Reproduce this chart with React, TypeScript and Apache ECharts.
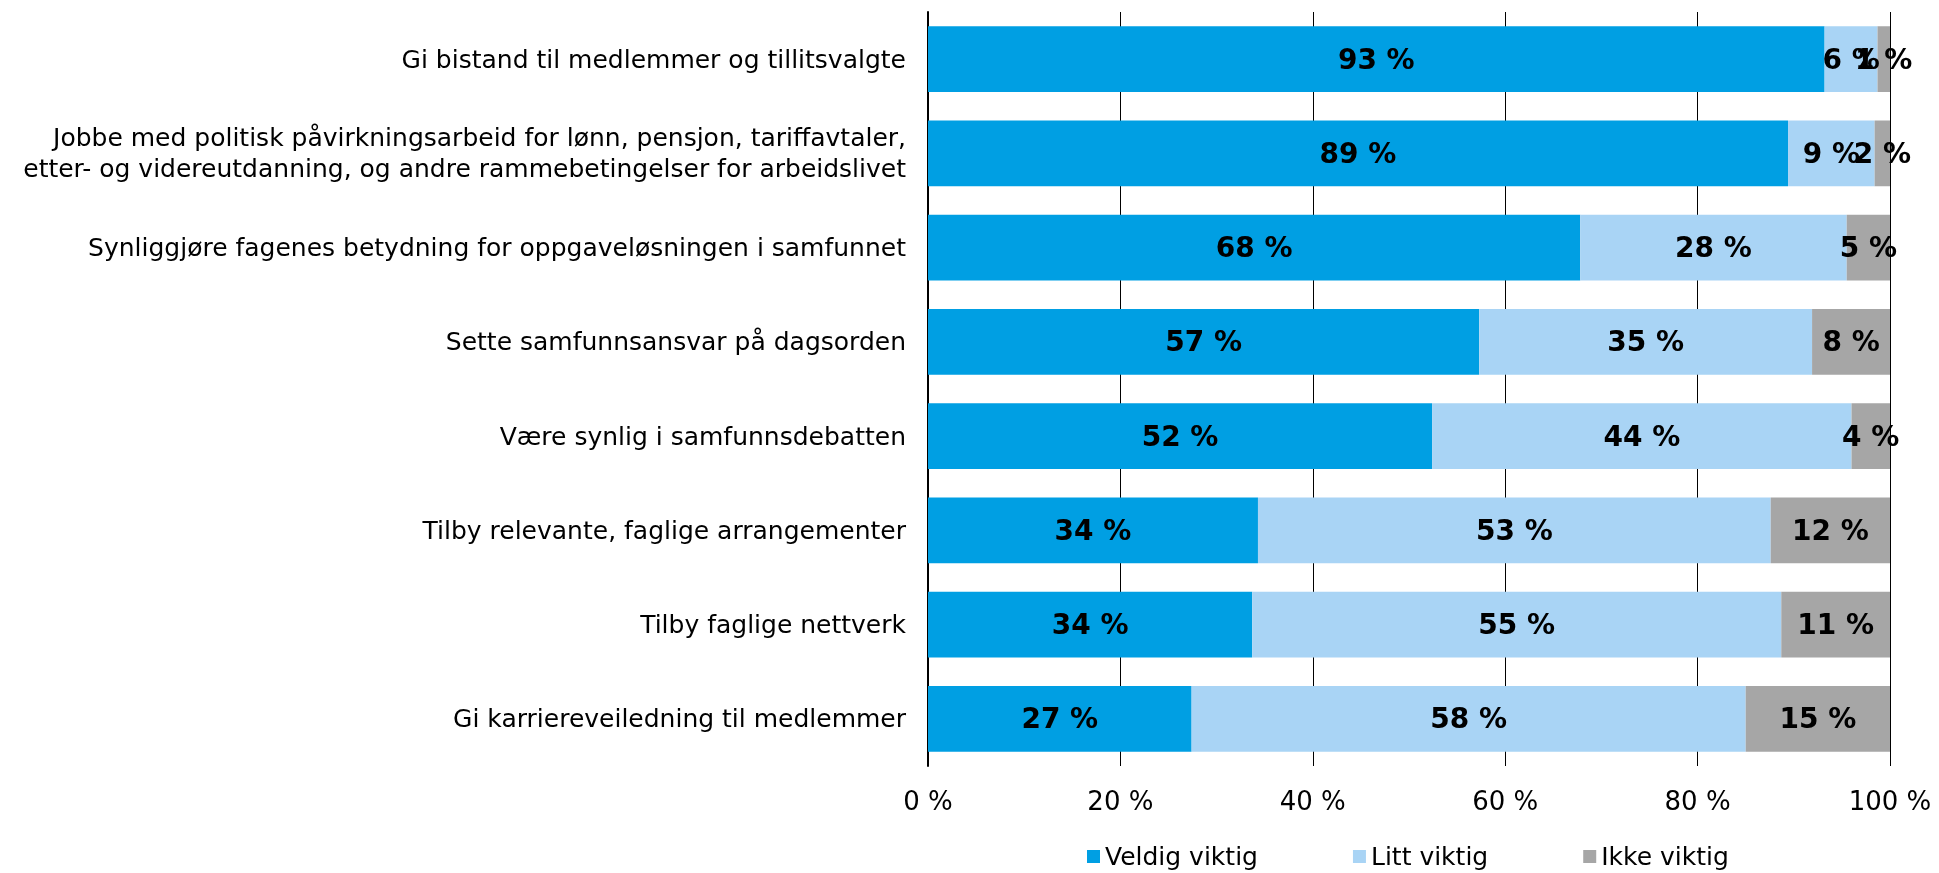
import React, { useEffect, useRef } from "react";
import * as echarts from "echarts";

const categories = [
  "Gi bistand til medlemmer og tillitsvalgte",
  "Jobbe med politisk påvirkningsarbeid for lønn, pensjon, tariffavtaler,\netter- og videreutdanning, og andre rammebetingelser for arbeidslivet",
  "Synliggjøre fagenes betydning for oppgaveløsningen i samfunnet",
  "Sette samfunnsansvar på dagsorden",
  "Være synlig i samfunnsdebatten",
  "Tilby relevante, faglige arrangementer",
  "Tilby faglige nettverk",
  "Gi karriereveiledning til medlemmer",
];

const veldigViktig = [93.2, 89.4, 67.8, 57.3, 52.4, 34.3, 33.7, 27.4];
const littViktig = [5.5, 9.0, 27.7, 34.6, 43.6, 53.3, 55.0, 57.6];
const ikkeViktig = [1.3, 1.6, 4.6, 8.1, 4.0, 12.4, 11.3, 15.0];

const seriesNames = ["Veldig viktig", "Litt viktig", "Ikke viktig"];
const seriesColors = ["#009FE3", "#A9D4F5", "#A6A6A6"];
const xTicks = [0, 20, 40, 60, 80, 100];

const FONT = "DejaVu Sans, Verdana, sans-serif";

export default function App() {
  const ref = useRef<HTMLDivElement>(null);
  useEffect(() => {
    if (!ref.current) return;
    const chart = echarts.init(ref.current, null, { renderer: "svg" });
    const values = [veldigViktig, littViktig, ikkeViktig];
    chart.setOption({
      animation: false,
      textStyle: { fontFamily: FONT },
      grid: { left: 928, right: 49, top: 12, bottom: 107, containLabel: false },
      legend: {
        data: seriesNames,
        left: 1082,
        top: 839,
        itemWidth: 13,
        itemHeight: 13,
        itemGap: 95,
        icon: "rect",
        textStyle: { fontFamily: FONT, fontSize: 25, color: "#000" },
      },
      xAxis: {
        type: "value",
        min: xTicks[0],
        max: xTicks[xTicks.length - 1],
        interval: 20,
        axisLine: { show: false },
        axisTick: { show: false },
        splitLine: { show: true, lineStyle: { color: "#000", width: 1 } },
        axisLabel: {
          formatter: "{value} %",
          fontFamily: FONT,
          fontSize: 26,
          color: "#000",
          margin: 22,
        },
      },
      yAxis: {
        type: "category",
        data: categories,
        inverse: true,
        axisLine: { show: true, lineStyle: { color: "#000", width: 2 } },
        axisTick: { show: false },
        axisLabel: {
          fontFamily: FONT,
          fontSize: 25,
          color: "#000",
          margin: 22,
          align: "right",
          lineHeight: 31,
        },
      },
      series: seriesNames.map((name, i) => ({
        name,
        type: "bar",
        stack: "total",
        barCategoryGap: "30%",
        data: values[i],
        itemStyle: { color: seriesColors[i] },
        label: {
          show: true,
          position: "inside",
          formatter: (p: any) => Math.round(p.value) + " %",
          fontFamily: FONT,
          fontSize: 28,
          fontWeight: "bold",
          color: "#000",
        },
      })),
    });
    return () => chart.dispose();
  }, []);
  return (
    <div
      ref={ref}
      style={{ position: "fixed", left: 0, top: 0, width: 1939, height: 873 }}
    />
  );
}
